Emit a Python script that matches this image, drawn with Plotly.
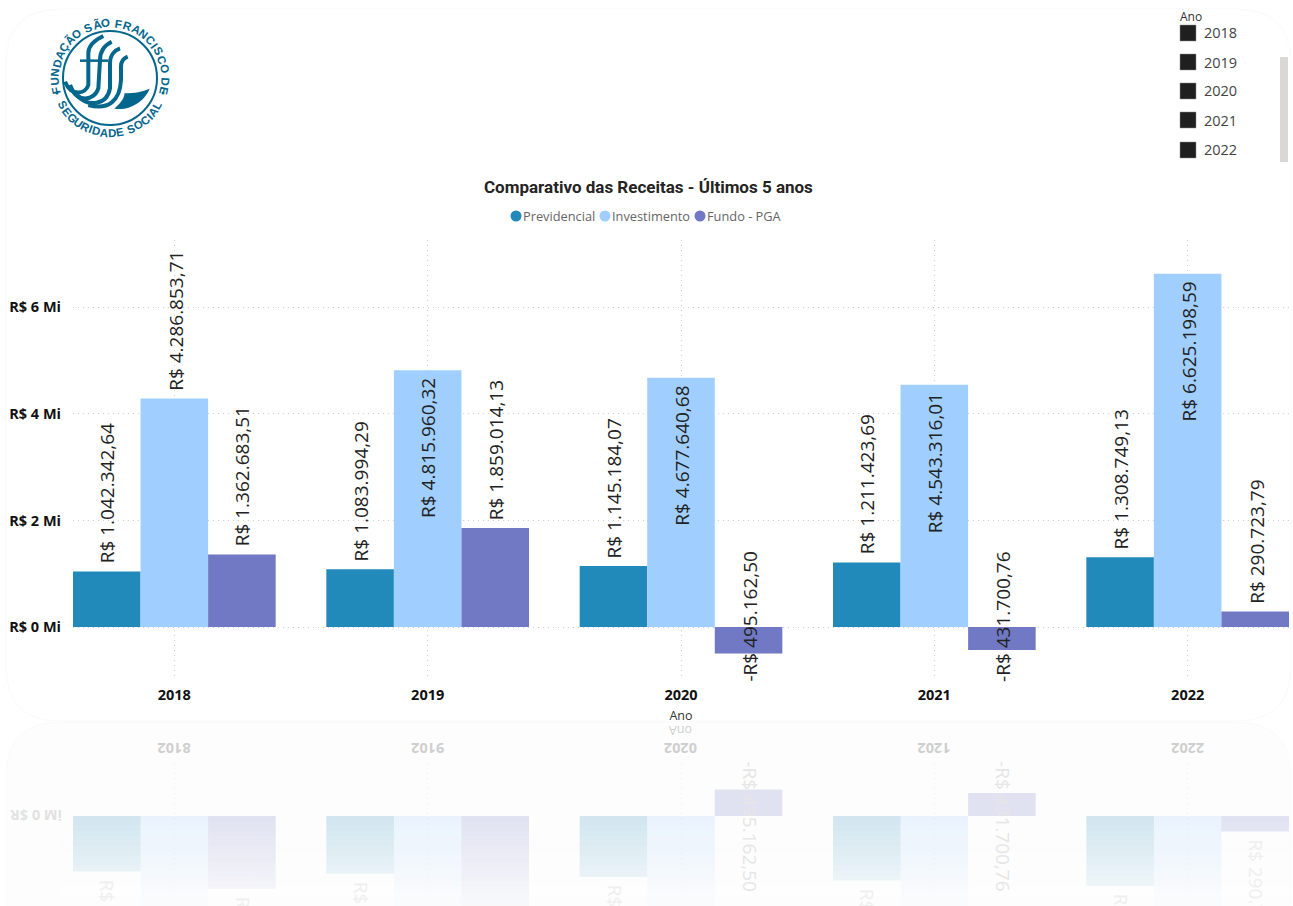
import math
import plotly.graph_objects as go

years = [2018, 2019, 2020, 2021, 2022]
previdencial = [1042342.64, 1083994.29, 1145184.07, 1211423.69, 1308749.13]
investimento = [4286853.71, 4815960.32, 4677640.68, 4543316.01, 6625198.59]
fundo_pga = [1362683.51, 1859014.13, -495162.50, -431700.76, 290723.79]
series_names = ["Previdencial", "Investimento", "Fundo - PGA"]
series_colors = ["#218abb", "#a0cfff", "#7179c4"]
y_ticks = [0, 2000000, 4000000, 6000000]
y_tick_labels = ["R$ 0 Mi", "R$ 2 Mi", "R$ 4 Mi", "R$ 6 Mi"]
inside_labels = {(1, 2019), (1, 2020), (1, 2021), (1, 2022)}

W, H = 1293, 906
TEAL = "#03668c"
LABEL_SIZE = 19
DOTS = "1px,4px"


def px(x):
    return x / W


def py(y):
    return 1 - y / H


def path_px(*parts):
    out = []
    for p in parts:
        if isinstance(p, str):
            out.append(p)
        else:
            out.append(f"{px(p[0]):.5f},{py(p[1]):.5f}")
    return " ".join(out)


def brl(v):
    s = f"{abs(v):,.2f}".replace(",", "X").replace(".", ",").replace("X", ".")
    return ("-R$ " if v < 0 else "R$ ") + s


def text(x, y, t, size, color, family="Open Sans", angle=0, xanchor="center", yanchor="middle", xref="paper", yref="paper", xshift=0, yshift=0):
    return dict(x=x, y=y, xref=xref, yref=yref, text=t, showarrow=False, textangle=angle, xanchor=xanchor, yanchor=yanchor,
                xshift=xshift, yshift=yshift, borderpad=0, borderwidth=0, font=dict(size=size, color=color, family=family))


fig = go.Figure()
values = [previdencial, investimento, fundo_pga]
for name, vals, col in zip(series_names, values, series_colors):
    fig.add_trace(go.Bar(x=years, y=vals, name=name, marker=dict(color=col, line_width=0), showlegend=False, xaxis="x", yaxis="y"))
for name, vals, col in zip(series_names, values, series_colors):
    fig.add_trace(go.Bar(x=years, y=vals, name=name + " (reflexo)", marker=dict(color=col, line_width=0), opacity=0.2, showlegend=False, xaxis="x2", yaxis="y2"))

ann, shapes = [], []
y_min = -993000
y_max = 7260000
y2_bottom = 1687000
offs = [-0.8 / 3, 0, 0.8 / 3]

for si, vals in enumerate(values):
    for yr, v in zip(years, vals):
        lx = yr + offs[si]
        t = brl(v)
        if v < 0:
            ann.append(text(lx, y_min, t, LABEL_SIZE, "#222222", angle=-90, yanchor="bottom", xref="x", yref="y", xshift=1, yshift=-2))
            ann.append(text(lx, y_min, t, LABEL_SIZE, "#e6e6e6", angle=90, yanchor="top", xref="x2", yref="y2", xshift=1, yshift=2))
        elif (si, yr) in inside_labels:
            ann.append(text(lx, v, t, LABEL_SIZE, "#222222", angle=-90, yanchor="top", xref="x", yref="y", xshift=1, yshift=-8))
        else:
            ann.append(text(lx, v, t, LABEL_SIZE, "#222222", angle=-90, yanchor="bottom", xref="x", yref="y", xshift=1, yshift=8))
            if v < y2_bottom:
                ann.append(text(lx, v, t, LABEL_SIZE, "#efefef", angle=90, yanchor="top", xref="x2", yref="y2", xshift=1, yshift=-8))

# reflected axis labels
for yr in years:
    ann.append(text(yr, py(749), f"<b>{str(yr)[::-1]}</b>", 14.5, "#cfcfcf", angle=180, xref="x2", yref="paper"))
ann.append(text(px(62), py(816), f"<b>{y_tick_labels[0][::-1]}</b>", 14.5, "#e2e2e2", angle=180, xanchor="right"))
ann.append(text(px(681), py(731), "Ano"[::-1], 12.5, "#d0d0d0", angle=180))

# title, legend
ann.append(text(px(648), py(187), "<b>Comparativo das Receitas - Últimos 5 anos</b>", 17, "#252423", family="Roboto, Arial"))
leg_dot_x = [516, 605, 700]
for dx, n, c in zip(leg_dot_x, series_names, series_colors):
    shapes.append(dict(type="circle", xref="paper", yref="paper", x0=px(dx - 5.5), x1=px(dx + 5.5), y0=py(216 + 5.5), y1=py(216 - 5.5), fillcolor=c, line_width=0))
    ann.append(text(px(dx + 7), py(216), n, 12.8, "#666666", xanchor="left"))

# slicer
ann.append(text(px(1180), py(17), "Ano", 12, "#333333", xanchor="left"))
for yr, cy in zip(years, [33, 62, 91, 120, 150]):
    shapes.append(dict(type="rect", xref="paper", yref="paper", x0=px(1180), x1=px(1196), y0=py(cy + 8), y1=py(cy - 8), fillcolor="#1f1f1f", line=dict(color="#8a8f96", width=0.5)))
    ann.append(text(px(1204), py(cy), str(yr), 14.5, "#444444", xanchor="left"))
shapes.append(dict(type="rect", xref="paper", yref="paper", x0=px(1280), x1=px(1288), y0=py(162), y1=py(57), fillcolor="#d9d8d6", line_width=0))


# cards
def card(x0, y0, x1, y1, r):
    return path_px("M", (x0 + r, y0), "L", (x1 - r, y0), "Q", (x1, y0), (x1, y0 + r), "L", (x1, y1 - r), "Q", (x1, y1), (x1 - r, y1), "L", (x0 + r, y1), "Q", (x0, y1), (x0, y1 - r), "L", (x0, y0 + r), "Q", (x0, y0), (x0 + r, y0), "Z")


shapes.append(dict(type="path", xref="paper", yref="paper", path=card(6, 9, 1291, 721, 55), fillcolor="rgba(0,0,0,0)", line=dict(color="#fafafa", width=1), layer="below"))
shapes.append(dict(type="path", xref="paper", yref="paper", path=card(6, 722, 1291, 1000, 55), fillcolor="#fdfdfd", line=dict(color="#fafafa", width=1), layer="below"))

# fade of the reflection
n_strips = 18
for i in range(n_strips):
    y0 = 816 + i * 5
    a = 0.85 * (i + 0.5) / n_strips
    shapes.append(dict(type="rect", xref="paper", yref="paper", x0=px(60), x1=px(1291), y0=py(y0 + 5), y1=py(y0), fillcolor=f"rgba(253,253,253,{a:.3f})", line_width=0, layer="above"))

# logo
cx, cy, rr = 110, 78, 47
shapes.append(dict(type="circle", xref="paper", yref="paper", x0=px(cx - rr), x1=px(cx + rr), y0=py(cy + rr), y1=py(cy - rr), fillcolor="rgba(0,0,0,0)", line=dict(color=TEAL, width=2)))


def z(x, y):
    return (x / 3 + 45, y / 3 + 10)


stripes = [
    [(60, 215), (80, 262), (122, 252), (130, 225), (130, 130), (130, 100), (160, 85), (175, 78)],
    [(75, 225), (95, 282), (150, 272), (160, 235), (165, 150), (165, 120), (180, 105), (200, 95)],
    [(95, 255), (130, 292), (185, 287), (195, 235), (195, 160), (195, 135), (210, 120), (225, 115)],
    [(130, 285), (190, 302), (225, 272), (228, 210), (228, 170), (228, 155), (235, 145), (248, 140)],
]
for s in stripes:
    p = z(*s[0])
    parts = ["M", p, "C", z(*s[1]), z(*s[2]), z(*s[3]), "L", z(*s[4]), "C", z(*s[5]), z(*s[6]), z(*s[7])]
    shapes.append(dict(type="path", xref="paper", yref="paper", path=path_px(*parts), line=dict(color=TEAL, width=4), fillcolor="rgba(0,0,0,0)"))
shapes.append(dict(type="path", xref="paper", yref="paper", path=path_px("M", z(105, 152), "L", z(190, 152)), line=dict(color=TEAL, width=2.5)))
shapes.append(dict(type="path", xref="paper", yref="paper",
                   path=path_px("M", z(208, 296), "C", z(232, 276), z(240, 258), z(238, 250), "C", z(270, 250), z(292, 245), z(314, 236), "C", z(300, 272), z(255, 304), z(208, 296), "Z"),
                   fillcolor=TEAL, line_width=0))
for dot in [(57, 93), (163, 93)]:
    shapes.append(dict(type="circle", xref="paper", yref="paper", x0=px(dot[0] - 1.5), x1=px(dot[0] + 1.5), y0=py(dot[1] + 1.5), y1=py(dot[1] - 1.5), fillcolor=TEAL, line_width=0))


def arc_angles(s, a0, a1):
    w = [0.45 if c == " " else (0.55 if c == "I" else 1.0) for c in s]
    # centre of each glyph along the arc, proportional to its width
    total = sum(w) - (w[0] + w[-1]) / 2
    out, acc = [], 0.0
    for i, wi in enumerate(w):
        if i > 0:
            acc += (w[i - 1] + wi) / 2
        out.append(a0 + (a1 - a0) * acc / total)
    return out


top = "FUNDAÇÃO SÃO FRANCISCO DE"
for ch, th in zip(top, arc_angles(top, -103, 103)):
    x = cx + 55 * math.sin(math.radians(th))
    y = cy - 55 * math.cos(math.radians(th))
    if ch != " ":
        ann.append(text(px(x), py(y), f"<b>{ch}</b>", 11.5, TEAL, family="Liberation Sans", angle=th))
bottom = "SEGURIDADE SOCIAL"
for ch, th in zip(bottom, arc_angles(bottom, -60, 60)):
    x = cx + 55 * math.sin(math.radians(th))
    y = cy + 55 * math.cos(math.radians(th))
    if ch != " ":
        ann.append(text(px(x), py(y), f"<b>{ch}</b>", 11.5, TEAL, family="Liberation Sans", angle=-th))

tickfont = dict(family="Open Sans", size=14.5, color="#111111")
GRID = "#cfcfcf"
fig.update_layout(
    width=W, height=H, margin=dict(l=0, r=0, t=0, b=0), autosize=False,
    paper_bgcolor="white", plot_bgcolor="rgba(0,0,0,0)",
    barmode="group", bargap=0.2, bargroupgap=0,
    showlegend=False, hovermode=False, annotations=ann, shapes=shapes,
    xaxis=dict(domain=[px(73), px(1289)], range=[2017.6, 2022.4], tickmode="array", tickvals=years, ticktext=[f"<b>{y}</b>" for y in years],
               showgrid=True, gridcolor=GRID, griddash=DOTS, gridwidth=1, zeroline=False, showline=False, ticks="", ticklen=0, ticklabelstandoff=4,
               tickfont=tickfont, title=dict(text="Ano", font=dict(family="Open Sans", size=12.5, color="#333333"), standoff=8), anchor="y"),
    yaxis=dict(domain=[py(680), py(240)], range=[y_min, y_max], tickmode="array", tickvals=y_ticks, ticktext=[f"<b>{t}</b>" for t in y_tick_labels],
               showgrid=True, gridcolor=GRID, griddash=DOTS, gridwidth=1, zeroline=False, showline=False, ticks="", tickfont=tickfont,
               ticklabelstandoff=11, anchor="x"),
    xaxis2=dict(domain=[px(73), px(1289)], range=[2017.6, 2022.4], tickmode="array", tickvals=years, showticklabels=False,
                showgrid=True, gridcolor="#ececec", griddash=DOTS, gridwidth=1, zeroline=False, showline=False, ticks="", anchor="y2"),
    yaxis2=dict(domain=[0, py(763)], range=[y2_bottom, y_min], showticklabels=False, showgrid=False, zeroline=False, showline=False, ticks="", anchor="x2"),
)
fig.write_html("out.html", post_script="document.body.style.margin='0';document.body.style.overflow='hidden';", config={"displayModeBar": False})
